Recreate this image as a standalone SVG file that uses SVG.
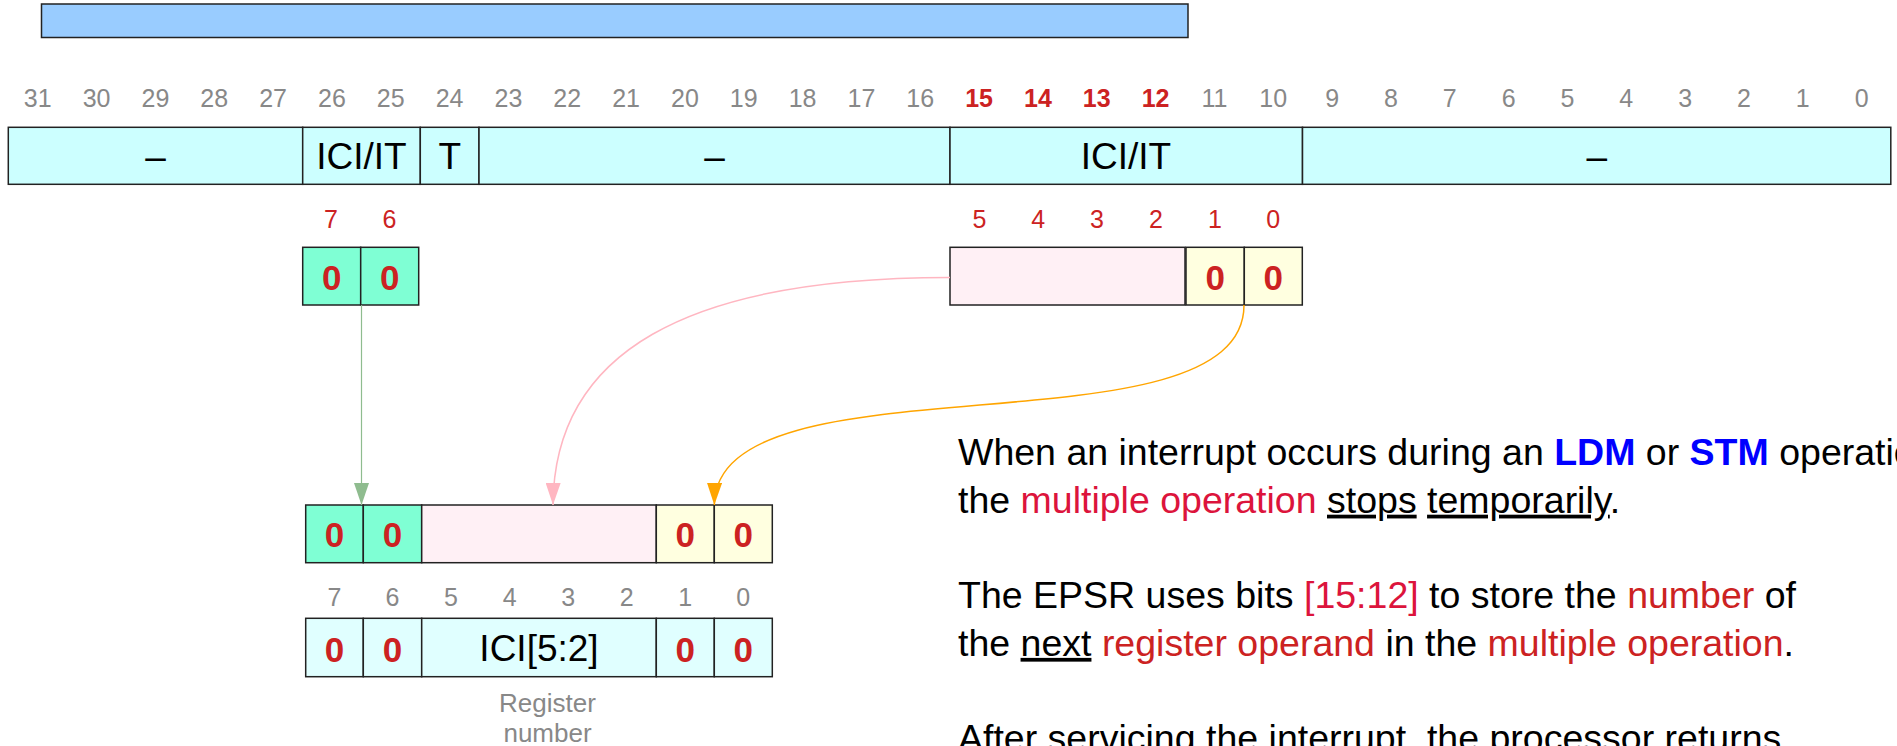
<svg xmlns="http://www.w3.org/2000/svg" width="1897" height="746" viewBox="0 0 1897 746">
  <style>
    text { font-family: "Liberation Sans", Arial, sans-serif; }
    .box { stroke: #222; stroke-width: 1.5; }
    .reg { fill: #ccffff; }
    .grn { fill: #7fffd4; }
    .pnk { fill: #fff0f5; }
    .ylw { fill: #ffffe0; }
    .lcy { fill: #e0ffff; }
    .bitn { font-size: 25px; fill: #888888; text-anchor: middle; }
    .bith { font-size: 25px; fill: #cc2222; font-weight: bold; text-anchor: middle; }
    .bitr { font-size: 25px; fill: #cc2222; text-anchor: middle; }
    .fld { font-size: 37px; fill: #000; text-anchor: middle; }
    .zero { font-size: 35px; fill: #cc2222; font-weight: bold; text-anchor: middle; }
    .note { font-size: 37.5px; fill: #000; }
    .kw { fill: #0000ff; font-weight: bold; }
    .hi { fill: #dc143c; }
    .rd { fill: #cc2222; }
    .ul { text-decoration: underline; }
    .cap { font-size: 26px; fill: #888888; text-anchor: middle; }
  </style>
  <defs>
    <marker id="headGreen" viewBox="0 0 22 15" refX="22" refY="7.5" markerWidth="22" markerHeight="15" markerUnits="userSpaceOnUse" orient="auto">
      <path d="M0,0 L22,7.5 L0,15 z" fill="#8fbc8f"/>
    </marker>
    <marker id="headPink" viewBox="0 0 22 15" refX="22" refY="7.5" markerWidth="22" markerHeight="15" markerUnits="userSpaceOnUse" orient="auto">
      <path d="M0,0 L22,7.5 L0,15 z" fill="#ffb6c1"/>
    </marker>
    <marker id="headOrange" viewBox="0 0 22 15" refX="22" refY="7.5" markerWidth="22" markerHeight="15" markerUnits="userSpaceOnUse" orient="auto">
      <path d="M0,0 L22,7.5 L0,15 z" fill="#ffa500"/>
    </marker>
  </defs>

  <!-- span bar above the register -->
  <g id="span-bar">
    <rect x="41.5" y="4" width="1146.5" height="33.5" fill="#99ccff" class="box"/>
  </g>

  <!-- bit numbers 31..0 -->
  <g id="bit-numbers">
    <text class="bitn" x="37.7" y="107">31</text>
    <text class="bitn" x="96.6" y="107">30</text>
    <text class="bitn" x="155.4" y="107">29</text>
    <text class="bitn" x="214.2" y="107">28</text>
    <text class="bitn" x="273.1" y="107">27</text>
    <text class="bitn" x="331.9" y="107">26</text>
    <text class="bitn" x="390.7" y="107">25</text>
    <text class="bitn" x="449.6" y="107">24</text>
    <text class="bitn" x="508.4" y="107">23</text>
    <text class="bitn" x="567.2" y="107">22</text>
    <text class="bitn" x="626.1" y="107">21</text>
    <text class="bitn" x="684.9" y="107">20</text>
    <text class="bitn" x="743.7" y="107">19</text>
    <text class="bitn" x="802.6" y="107">18</text>
    <text class="bitn" x="861.4" y="107">17</text>
    <text class="bitn" x="920.2" y="107">16</text>
    <text class="bith" x="979.1" y="107">15</text>
    <text class="bith" x="1037.9" y="107">14</text>
    <text class="bith" x="1096.7" y="107">13</text>
    <text class="bith" x="1155.6" y="107">12</text>
    <text class="bitn" x="1214.4" y="107">11</text>
    <text class="bitn" x="1273.2" y="107">10</text>
    <text class="bitn" x="1332.1" y="107">9</text>
    <text class="bitn" x="1390.9" y="107">8</text>
    <text class="bitn" x="1449.7" y="107">7</text>
    <text class="bitn" x="1508.6" y="107">6</text>
    <text class="bitn" x="1567.4" y="107">5</text>
    <text class="bitn" x="1626.2" y="107">4</text>
    <text class="bitn" x="1685.1" y="107">3</text>
    <text class="bitn" x="1743.9" y="107">2</text>
    <text class="bitn" x="1802.7" y="107">1</text>
    <text class="bitn" x="1861.6" y="107">0</text>
  </g>

  <!-- EPSR fields -->
  <g id="epsr">
    <rect class="box reg" x="8.3" y="127.3" width="294.4" height="57"/>
    <rect class="box reg" x="302.7" y="127.3" width="117.6" height="57"/>
    <rect class="box reg" x="420.3" y="127.3" width="58.7" height="57"/>
    <rect class="box reg" x="479" y="127.3" width="471" height="57"/>
    <rect class="box reg" x="950" y="127.3" width="352.5" height="57"/>
    <rect class="box reg" x="1302.5" y="127.3" width="588.3" height="57"/>
    <text class="fld" x="155.5" y="169">–</text>
    <text class="fld" x="361.5" y="169">ICI/IT</text>
    <text class="fld" x="449.7" y="169">T</text>
    <text class="fld" x="714.5" y="169">–</text>
    <text class="fld" x="1126" y="169">ICI/IT</text>
    <text class="fld" x="1596.8" y="169">–</text>
  </g>

  <!-- ICI bits 7:6 held in EPSR[26:25] -->
  <g id="ici-high">
    <text class="bitr" x="331" y="228">7</text>
    <text class="bitr" x="389.5" y="228">6</text>
    <rect class="box grn" x="302.7" y="247.3" width="58" height="57.7"/>
    <rect class="box grn" x="360.7" y="247.3" width="58" height="57.7"/>
    <text class="zero" x="331.7" y="290">0</text>
    <text class="zero" x="389.7" y="290">0</text>
  </g>

  <!-- ICI bits 5:0 held in EPSR[15:10] -->
  <g id="ici-low">
    <text class="bitr" x="979.4" y="228">5</text>
    <text class="bitr" x="1038.2" y="228">4</text>
    <text class="bitr" x="1097" y="228">3</text>
    <text class="bitr" x="1155.9" y="228">2</text>
    <text class="bitr" x="1215" y="228">1</text>
    <text class="bitr" x="1273.3" y="228">0</text>
    <rect class="box pnk" x="950" y="247.3" width="235" height="57.7"/>
    <rect class="box ylw" x="1186" y="247.3" width="58.3" height="57.7"/>
    <rect class="box ylw" x="1244.3" y="247.3" width="58" height="57.7"/>
    <text class="zero" x="1215.2" y="290">0</text>
    <text class="zero" x="1273.3" y="290">0</text>
  </g>

  <!-- reassembled ICI byte -->
  <g id="ici-byte">
    <rect class="box grn" x="305.7" y="505" width="57.6" height="57.7"/>
    <rect class="box grn" x="363.3" y="505" width="58.4" height="57.7"/>
    <rect class="box pnk" x="421.7" y="505" width="234.6" height="57.7"/>
    <rect class="box ylw" x="656.3" y="505" width="58" height="57.7"/>
    <rect class="box ylw" x="714.3" y="505" width="58" height="57.7"/>
    <text class="zero" x="334.5" y="546.7">0</text>
    <text class="zero" x="392.5" y="546.7">0</text>
    <text class="zero" x="685.3" y="546.7">0</text>
    <text class="zero" x="743.3" y="546.7">0</text>
  </g>

  <!-- ICI byte bit numbers -->
  <g id="ici-byte-numbers">
    <text class="bitn" x="334.5" y="606">7</text>
    <text class="bitn" x="392.5" y="606">6</text>
    <text class="bitn" x="451" y="606">5</text>
    <text class="bitn" x="509.6" y="606">4</text>
    <text class="bitn" x="568.2" y="606">3</text>
    <text class="bitn" x="626.8" y="606">2</text>
    <text class="bitn" x="685.3" y="606">1</text>
    <text class="bitn" x="743.3" y="606">0</text>
  </g>

  <!-- ICI byte decoded -->
  <g id="ici-decoded">
    <rect class="box lcy" x="305.7" y="618.3" width="57.6" height="58.4"/>
    <rect class="box lcy" x="363.3" y="618.3" width="58.4" height="58.4"/>
    <rect class="box lcy" x="421.7" y="618.3" width="234.6" height="58.4"/>
    <rect class="box lcy" x="656.3" y="618.3" width="58" height="58.4"/>
    <rect class="box lcy" x="714.3" y="618.3" width="58" height="58.4"/>
    <text class="zero" x="334.5" y="661.7">0</text>
    <text class="zero" x="392.5" y="661.7">0</text>
    <text class="fld" x="539" y="661">ICI[5:2]</text>
    <text class="zero" x="685.3" y="661.7">0</text>
    <text class="zero" x="743.3" y="661.7">0</text>
    <text class="cap" x="547.5" y="712">Register</text>
    <text class="cap" x="547.5" y="742">number</text>
  </g>

  <!-- explanation -->
  <g id="notes">
    <text class="note" x="958" y="465">When an interrupt occurs during an <tspan class="kw">LDM</tspan> or <tspan class="kw">STM</tspan> operation,</text>
    <text class="note" x="958" y="512.7">the <tspan class="hi">multiple operation</tspan> <tspan class="ul">stops</tspan> <tspan class="ul">temporarily</tspan>.</text>
    <text class="note" x="958" y="608.2">The EPSR uses bits <tspan class="hi">[15:12]</tspan> to store the <tspan class="rd">number</tspan> of</text>
    <text class="note" x="958" y="655.9">the <tspan class="ul">next</tspan> <tspan class="rd">register operand</tspan> in the <tspan class="rd">multiple operation</tspan>.</text>
    <text class="note" x="958" y="751.3">After servicing the interrupt, the processor returns</text>
  </g>

  <!-- connectors -->
  <g id="connectors" fill="none">
    <path d="M361.5,305 L361.5,505" stroke="#8fbc8f" stroke-width="1.2" marker-end="url(#headGreen)"/>
    <path d="M950,277.5 C685,277.5 554,353 553,505" stroke="#ffb6c1" stroke-width="1.5" marker-end="url(#headPink)"/>
    <path d="M1244,305 C1244,460 716,350 714.3,505" stroke="#ffa500" stroke-width="1.5" marker-end="url(#headOrange)"/>
  </g>
</svg>
